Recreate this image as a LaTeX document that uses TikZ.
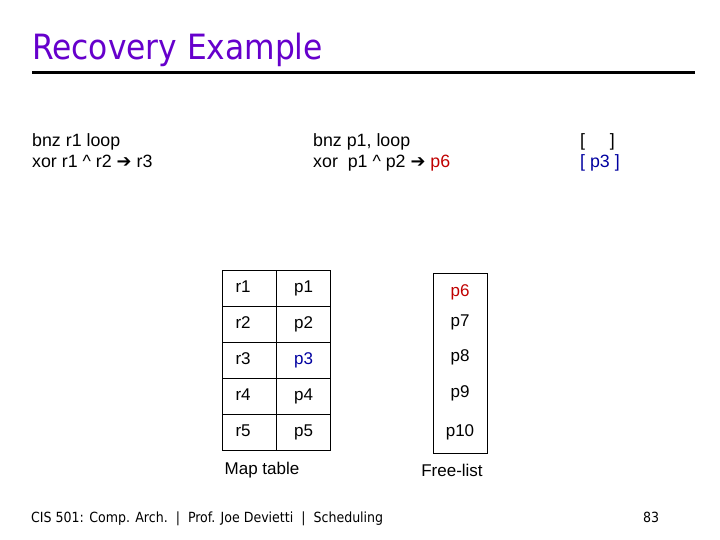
\documentclass[tikz,border=0pt]{standalone}
\usepackage{fontspec}
\setmainfont{Liberation Sans}
\newfontfamily\tahomalike{DejaVu Sans Condensed}
\newfontfamily\arrowfont{DejaVu Sans}
\definecolor{titlepurple}{RGB}{102,0,204}
\definecolor{regred}{RGB}{192,0,0}
\definecolor{regblue}{RGB}{0,0,160}
\newcommand{\rarr}{{\arrowfont\char"2794}}
\tikzset{
  codetext/.style={anchor=base west, inner sep=0pt, font=\fontsize{17.8}{21}\selectfont},
  cellbox/.style={draw, line width=0.8pt, minimum width=54pt, minimum height=36pt, inner sep=0pt, text height=12pt, text depth=4pt, font=\fontsize{17}{20}\selectfont},
  rcell/.style={cellbox, text width=28pt, align=left},
  pcell/.style={cellbox, align=center},
  freeitem/.style={inner sep=0pt, text height=12pt, text depth=4pt, font=\fontsize{17}{20}\selectfont},
  caption/.style={inner sep=0pt, font=\fontsize{17}{20}\selectfont},
  footertext/.style={anchor=base west, inner sep=0pt, font=\tahomalike\fontsize{14}{16}\selectfont},
}
\begin{document}
\begin{tikzpicture}[x=1pt,y=-1pt]
\useasboundingbox (0,0) rectangle (720,540);
% title
\node[anchor=base west, inner sep=0pt, text=titlepurple, font=\tahomalike\fontsize{34.8}{40}\selectfont] (title) at (32,60) {Recovery Example};
\coordinate (ruleL) at (32,73);
\coordinate (ruleR) at (695,73);
\draw[line width=3pt] (ruleL) -- (ruleR);
% code
\node[codetext] (c1) at (32,147) {bnz r1 loop};
\node[codetext] (c2) at (32,168) {xor r1 \^{} r2 \rarr\ r3};
\node[codetext] (c3) at (313,147) {bnz p1, loop};
\node[codetext] (c4) at (313,168) {xor\ \ p1 \^{} p2 \rarr\ \textcolor{regred}{p6}};
\node[codetext] (b1) at (580,147) {[\ \ \ \ \ ]};
\node[codetext, text=regblue] (b2) at (580,168) {[ p3 ]};
% map table
\node[rcell] (r1) at (249.5,288) {r1};
\node[pcell] (p1) at (303.5,288) {p1};
\node[rcell] (r2) at (249.5,324) {r2};
\node[pcell] (p2) at (303.5,324) {p2};
\node[rcell] (r3) at (249.5,360) {r3};
\node[pcell, text=regblue] (p3) at (303.5,360) {p3};
\node[rcell] (r4) at (249.5,396) {r4};
\node[pcell] (p4) at (303.5,396) {p4};
\node[rcell] (r5) at (249.5,432) {r5};
\node[pcell] (p5) at (303.5,432) {p5};
\node[caption] (maptab) at (262,470) {Map table};
% free list
\node[draw, line width=0.8pt, minimum width=54pt, minimum height=180pt, inner sep=0pt] (flist) at (460,363) {};
\node[freeitem, text=regred] (f6) at (460,292) {p6};
\node[freeitem] (f7) at (460,322) {p7};
\node[freeitem] (f8) at (460,357) {p8};
\node[freeitem] (f9) at (460,393) {p9};
\node[freeitem] (f10) at (460,432) {p10};
\node[caption] (freecap) at (452,470) {Free-list};
% footer
\node[footertext] (footer) at (31,522) {CIS 501: Comp. Arch.\ \ |\ \ Prof. Joe Devietti\ \ |\ \ Scheduling};
\node[footertext] (pagenum) at (643,522) {83};
\end{tikzpicture}
\end{document}
